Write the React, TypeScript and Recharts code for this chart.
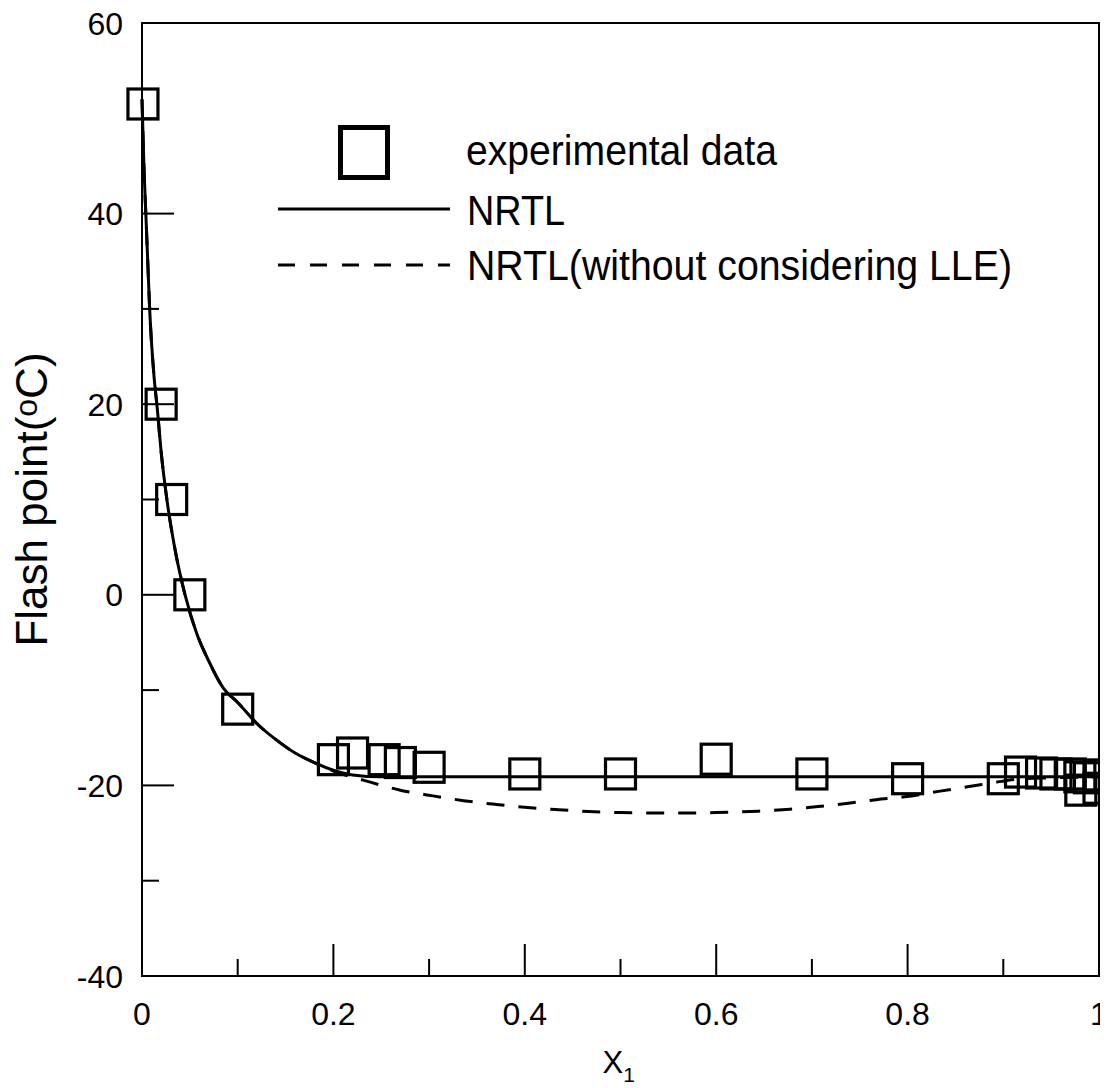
import React from 'react';
import {
  ComposedChart,
  Line,
  Scatter,
  XAxis,
  YAxis,
  ReferenceArea,
  Legend,
} from 'recharts';

// ---- data ----
const expX = [0.001, 0.02, 0.031, 0.05, 0.1, 0.2, 0.22, 0.253, 0.27, 0.3, 0.4, 0.5, 0.6, 0.7, 0.8, 0.9, 0.918, 0.94, 0.955, 0.97, 0.98, 0.99, 1.0, 0.981, 1.0];
const expY = [51.5, 20, 10, 0, -12, -17.3, -16.6, -17.3, -17.6, -18.1, -18.8, -18.8, -17.25, -18.8, -19.3, -19.3, -18.6, -18.7, -18.8, -18.8, -19.1, -19.2, -18.9, -20.5, -20.3];

const nrtlX = [0, 0.002, 0.004, 0.006, 0.008, 0.0125, 0.016, 0.02, 0.026, 0.035, 0.045, 0.057, 0.07, 0.085, 0.1, 0.12, 0.14, 0.16, 0.18, 0.2, 0.22, 0.25, 0.3, 0.4, 0.5, 0.6, 0.7, 0.8, 0.9, 1.0];
const nrtlY = [52, 45, 40, 35, 30, 23, 19.5, 15, 10, 4.5, 0, -4, -7, -9.8, -11.3, -13.5, -15.2, -16.6, -17.6, -18.4, -18.9, -19.1, -19.1, -19.1, -19.1, -19.1, -19.1, -19.1, -19.1, -19.1];

const noLleX = [0, 0.002, 0.004, 0.006, 0.008, 0.0125, 0.016, 0.02, 0.026, 0.035, 0.045, 0.057, 0.07, 0.085, 0.1, 0.12, 0.14, 0.16, 0.18, 0.2, 0.233, 0.27, 0.304, 0.336, 0.37, 0.4, 0.435, 0.46, 0.5, 0.55, 0.6, 0.644, 0.677, 0.704, 0.736, 0.767, 0.797, 0.834, 0.866, 0.89, 0.92, 0.95, 1.0];
const noLleY = [52, 45, 40, 35, 30, 23, 19.5, 15, 10, 4.5, 0, -4, -7, -9.8, -11.3, -13.5, -15.2, -16.6, -17.6, -18.5, -19.5, -20.5, -21.1, -21.6, -22.0, -22.3, -22.55, -22.7, -22.85, -22.9, -22.85, -22.7, -22.5, -22.25, -21.9, -21.5, -21.2, -20.6, -20.1, -19.7, -19.3, -19.2, -19.1];

const xTicks = [0, 0.1, 0.2, 0.3, 0.4, 0.5, 0.6, 0.7, 0.8, 0.9, 1];
const xTickLabels = ['0', '', '0.2', '', '0.4', '', '0.6', '', '0.8', '', '1'];
const yTicks = [-40, -30, -20, -10, 0, 10, 20, 30, 40, 50, 60];
const yTickLabels = ['-40', '', '-20', '', '0', '', '20', '', '40', '', '60'];

const legendLabels = ['experimental data', 'NRTL', 'NRTL(without considering LLE)'];
const xAxisTitle = 'X';
const xAxisSub = '1';
const yAxisTitle = ['Flash point(', 'o', 'C)'];

const toPoints = (xs: number[], ys: number[]) => xs.map((x, i) => ({ x, y: ys[i] }));
const expData = toPoints(expX, expY);
const nrtlData = toPoints(nrtlX, nrtlY);
const noLleData = toPoints(noLleX, noLleY);

const FONT = '"Liberation Sans", Arial, sans-serif';

const XTick = (props: any) => {
  const { x, y, payload } = props;
  const idx = xTicks.indexOf(payload.value);
  const label = idx >= 0 ? xTickLabels[idx] : '';
  const major = label !== '';
  return (
    <g>
      <line x1={x} x2={x} y1={y} y2={y - (major ? 32 : 17)} stroke="#000" strokeWidth={2} />
      {major && (
        <text x={x} y={y + 49} textAnchor="middle" fontSize={32} fontFamily={FONT} fill="#000">
          {label}
        </text>
      )}
    </g>
  );
};

const YTick = (props: any) => {
  const { x, y, payload } = props;
  const idx = yTicks.indexOf(payload.value);
  const label = idx >= 0 ? yTickLabels[idx] : '';
  const major = label !== '';
  return (
    <g>
      <line x1={x} x2={x + (major ? 32 : 17)} y1={y} y2={y} stroke="#000" strokeWidth={2} />
      {major && (
        <text x={x - 19} y={y} dy="0.36em" textAnchor="end" fontSize={32} fontFamily={FONT} fill="#000">
          {label}
        </text>
      )}
    </g>
  );
};

const Square = (props: any) => {
  const { cx, cy } = props;
  if (cx == null || cy == null) return <g />;
  return <rect x={cx - 15} y={cy - 15} width={30} height={30} fill="none" stroke="#000" strokeWidth={3.2} />;
};

const LegendBox = () => (
  <svg width={820} height={200} style={{ display: 'block', overflow: 'visible' }}>
    <rect x={82.5} y={19.5} width={47} height={50} fill="none" stroke="#000" strokeWidth={5} />
    <text x={208} y={57} fontSize={42} fontFamily={FONT} fill="#000" textLength={311} lengthAdjust="spacingAndGlyphs">
      {legendLabels[0]}
    </text>
    <line x1={20} x2={192} y1={101} y2={101} stroke="#000" strokeWidth={3} />
    <text x={209} y={117} fontSize={42} fontFamily={FONT} fill="#000" textLength={98} lengthAdjust="spacingAndGlyphs">
      {legendLabels[1]}
    </text>
    <line x1={20} x2={192} y1={157} y2={157} stroke="#000" strokeWidth={3} strokeDasharray="17 15" />
    <text x={209} y={172} fontSize={42} fontFamily={FONT} fill="#000" textLength={545} lengthAdjust="spacingAndGlyphs">
      {legendLabels[2]}
    </text>
  </svg>
);

const YLabel = (props: any) => {
  const vb = props.viewBox || { x: 42, y: 23, width: 100, height: 953 };
  const cx = vb.x + 5;
  const cy = vb.y + vb.height / 2;
  return (
    <text
      x={cx}
      y={cy}
      transform={`rotate(-90, ${cx}, ${cy})`}
      textAnchor="middle"
      fontSize={44}
      fontFamily={FONT}
      fill="#000"
    >
      <tspan>{yAxisTitle[0]}</tspan>
      <tspan fontSize={32} dy={-10}>{yAxisTitle[1]}</tspan>
      <tspan dy={10}>{yAxisTitle[2]}</tspan>
    </text>
  );
};

const XLabel = (props: any) => {
  const vb = props.viewBox || { x: 142, y: 976, width: 957, height: 100 };
  const sx = vb.x + vb.width / 2 - 18;
  const by = vb.y + 97;
  return (
    <text x={sx} y={by} fontSize={31} fontFamily={FONT} fill="#000">
      <tspan>{xAxisTitle}</tspan>
      <tspan fontSize={21} dy={9}>{xAxisSub}</tspan>
    </text>
  );
};

export default function App() {
  return (
    <div style={{ width: 1108, height: 1088, position: 'relative', background: '#fff', margin: '-8px 0 0 -8px' }}>
      <ComposedChart width={1108} height={1088} margin={{ top: 23, right: 9, bottom: 12, left: 42 }}>
        <XAxis
          dataKey="x"
          type="number"
          domain={[0, 1]}
          ticks={xTicks}
          interval={0}
          tickSize={0}
          tickMargin={0}
          tickLine={false}
          axisLine={{ stroke: '#000', strokeWidth: 2 }}
          tick={<XTick />}
          height={100}
          label={{ content: (p: any) => <XLabel {...p} /> }}
        />
        <YAxis
          dataKey="y"
          type="number"
          domain={[-40, 60]}
          ticks={yTicks}
          interval={0}
          tickSize={0}
          tickMargin={0}
          tickLine={false}
          axisLine={{ stroke: '#000', strokeWidth: 2 }}
          tick={<YTick />}
          width={100}
          label={{ content: (p: any) => <YLabel {...p} /> }}
        />
        <ReferenceArea x1={0} x2={1} y1={-40} y2={60} fill="none" stroke="#000" strokeWidth={2} fillOpacity={0} ifOverflow="visible" />
        <Line
          data={nrtlData}
          dataKey="y"
          type="monotone"
          stroke="#000"
          strokeWidth={3}
          dot={false}
          activeDot={false}
          isAnimationActive={false}
          legendType="none"
        />
        <Line
          data={noLleData}
          dataKey="y"
          type="monotone"
          stroke="#000"
          strokeWidth={3}
          strokeDasharray="18 14"
          dot={false}
          activeDot={false}
          isAnimationActive={false}
          legendType="none"
        />
        <Scatter data={expData} dataKey="y" shape={<Square />} isAnimationActive={false} legendType="none" />
        <Legend
          content={() => <LegendBox />}
          layout="vertical"
          align="center"
          verticalAlign="middle"
          wrapperStyle={{ position: 'absolute', left: 258, top: 108, width: 820, height: 200 }}
        />
      </ComposedChart>
    </div>
  );
}
